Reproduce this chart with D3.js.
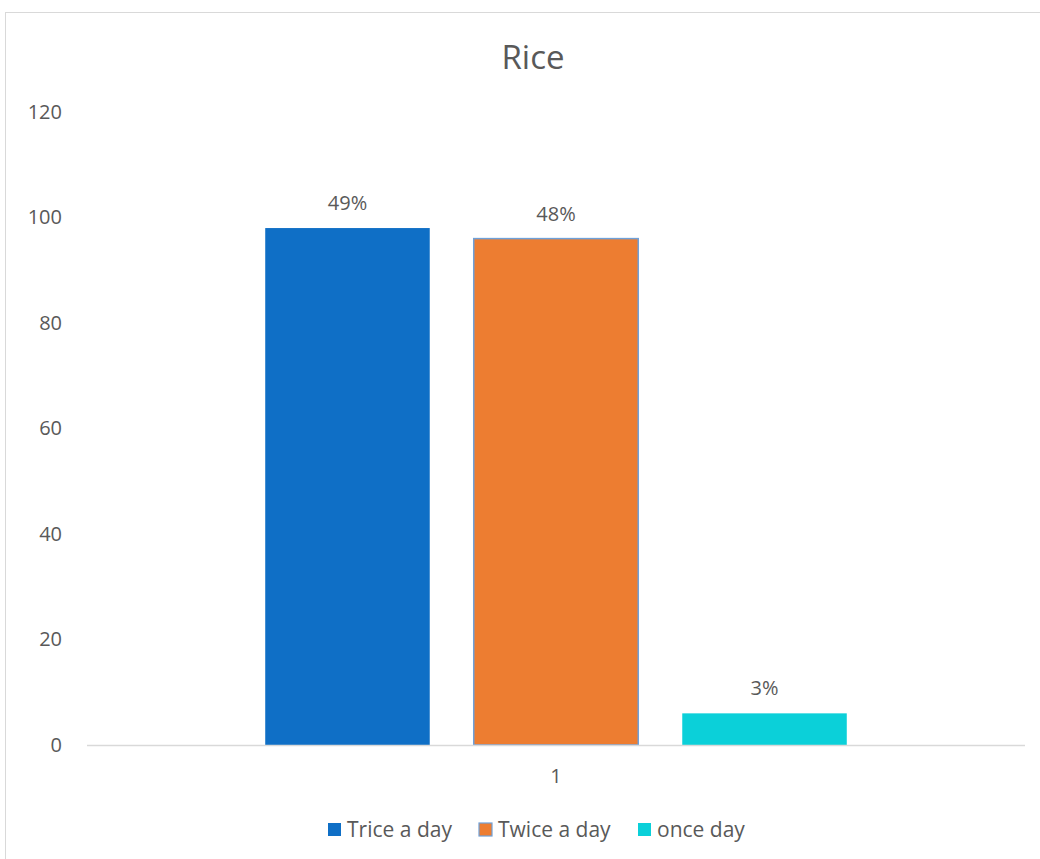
<!DOCTYPE html>
<html>
<head>
<meta charset="utf-8">
<script src="https://cdn.jsdelivr.net/npm/d3@7/dist/d3.min.js"></script>
<style>
  html, body { margin: 0; padding: 0; background: #fff; }
  svg text { font-family: "Open Sans", "Noto Sans", sans-serif; fill: #595959; }
</style>
</head>
<body>
<svg id="chart" width="1040" height="859"></svg>
<script>
// Rice consumption frequency
const categories = ["1"];
const seriesNames = ["Trice a day", "Twice a day", "once day"];
const seriesValues = [98, 96, 6];
const valueLabels = ["49%", "48%", "3%"];
const yTicks = [0, 20, 40, 60, 80, 100, 120];
const colors = ["#0F6FC6", "#ED7D31", "#0BD0D9"];

const svg = d3.select("#chart");

// outer chart frame
svg.append("rect")
  .attr("x", 5.5).attr("y", 12.5)
  .attr("width", 1040).attr("height", 859)
  .attr("fill", "#fff").attr("stroke", "#D9D9D9").attr("stroke-width", 1);

const plot = { left: 87, right: 1025, top: 112, bottom: 745 };

const y = d3.scaleLinear().domain([0, 120]).range([plot.bottom, plot.top]);
const x0 = d3.scaleBand().domain(categories).range([plot.left, plot.right]).paddingOuter(0.25);
const x1 = d3.scaleBand().domain(seriesNames).range([0, x0.bandwidth()])
  .paddingInner(0.211).paddingOuter(0.105);

// title
svg.append("text")
  .attr("x", 533).attr("y", 69)
  .attr("text-anchor", "middle")
  .style("font-size", "33px")
  .text("Rice");

// y axis labels
const yAxis = d3.axisLeft(y).tickValues(yTicks).tickSize(0).tickPadding(0);
const yg = svg.append("g").attr("transform", `translate(62,0)`).call(yAxis);
yg.select(".domain").remove();
yg.selectAll("text")
  .style("font-size", "20px")
  .attr("fill", "#595959");

// bars
const data = seriesNames.map((s, i) => ({ name: s, value: seriesValues[i], label: valueLabels[i], color: colors[i] }));
const g = svg.append("g").attr("transform", `translate(${x0(categories[0])},0)`);

g.selectAll("rect.bar")
  .data(data)
  .join("rect")
  .attr("class", "bar")
  .attr("x", d => x1(d.name))
  .attr("y", d => y(d.value))
  .attr("width", x1.bandwidth())
  .attr("height", d => y(0) - y(d.value))
  .attr("fill", d => d.color)
  .attr("stroke", (d, i) => i === 1 ? "#6FA0D8" : "none")
  .attr("stroke-width", 1.5);

// value labels
g.selectAll("text.val")
  .data(data)
  .join("text")
  .attr("class", "val")
  .attr("x", d => x1(d.name) + x1.bandwidth() / 2)
  .attr("y", d => y(d.value) - 18)
  .attr("text-anchor", "middle")
  .style("font-size", "20px")
  .text(d => d.label);

// x axis
const xAxis = d3.axisBottom(x0).tickSize(0).tickPadding(0);
const xg = svg.append("g").attr("transform", `translate(0,${plot.bottom})`).call(xAxis);
xg.select(".domain").remove();
xg.selectAll("text").style("font-size", "20px").attr("dy", "1.9em").attr("fill", "#595959");
svg.append("line")
  .attr("x1", plot.left).attr("x2", plot.right)
  .attr("y1", plot.bottom + 0.5).attr("y2", plot.bottom + 0.5)
  .attr("stroke", "#D9D9D9").attr("stroke-width", 1.5);

// legend
const legendX = [328, 479, 638];
const lg = svg.append("g").attr("transform", "translate(0,830)");
const items = lg.selectAll("g").data(data).join("g")
  .attr("transform", (d, i) => `translate(${legendX[i]},0)`);
items.append("rect")
  .attr("x", 0).attr("y", -7).attr("width", 13).attr("height", 13)
  .attr("fill", d => d.color)
  .attr("stroke", (d, i) => i === 1 ? "#6FA0D8" : "none")
  .attr("stroke-width", 1.2);
items.append("text")
  .attr("x", 19).attr("y", 7)
  .style("font-size", "21px")
  .text(d => d.name);
</script>
</body>
</html>
